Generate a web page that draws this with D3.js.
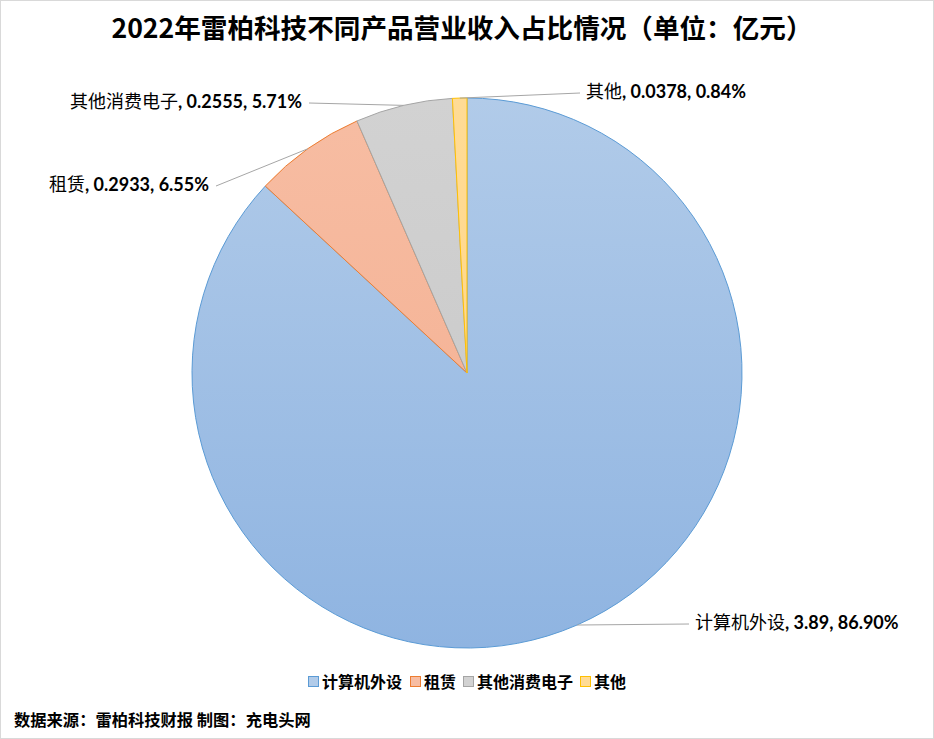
<!DOCTYPE html>
<html>
<head>
<meta charset="utf-8">
<title>雷柏科技营业收入占比</title>
<script src="https://cdnjs.cloudflare.com/ajax/libs/d3/7.8.5/d3.min.js"></script>
<style>
  body { margin: 0; background: #fff; }
  text { font-family: "Noto Sans CJK SC", "Noto Sans", sans-serif; fill: #000; }
  .num { font-family: Lato, "Noto Sans", sans-serif; font-weight: bold; font-size: 18px; }
</style>
</head>
<body>
<script type="text/javascript">
  var width = 934, height = 739;

  // data
  var categories = ["计算机外设", "租赁", "其他消费电子", "其他"];
  var revenue    = [3.89, 0.2933, 0.2555, 0.0378];
  var shareText  = ["86.90%", "6.55%", "5.71%", "0.84%"];

  // colours: [gradient top, gradient bottom, outline]
  var fills   = [["#b1cbe9", "#8fb4e1"], ["#f7bda3", "#f3ad8e"], ["#d2d2d2", "#c6c6c6"], ["#ffdb95", "#ffd584"]];
  var strokes = ["#5b9bd5", "#ed7d31", "#a5a5a5", "#ffc000"];

  // label anchor spots (layout only)
  var labelPos = [
    { x: 695, y: 623, anchor: "start" },
    { x: 209, y: 185, anchor: "end" },
    { x: 302, y: 102, anchor: "end" },
    { x: 586, y: 92,  anchor: "start" }
  ];

  var cx = 467, cy = 373, r = 275;

  var svg = d3.select("body").append("svg")
    .attr("width", width)
    .attr("height", height);

  svg.append("rect")
    .attr("x", 0.5).attr("y", 0.5)
    .attr("width", width - 1).attr("height", height - 1)
    .attr("fill", "#fff").attr("stroke", "#d9d9d9");

  var defs = svg.append("defs");
  fills.forEach(function (f, i) {
    var g = defs.append("linearGradient")
      .attr("id", "grad" + i)
      .attr("gradientUnits", "userSpaceOnUse")
      .attr("x1", 0).attr("y1", -r).attr("x2", 0).attr("y2", r);
    g.append("stop").attr("offset", "0%").attr("stop-color", f[0]);
    g.append("stop").attr("offset", "100%").attr("stop-color", f[1]);
  });

  svg.append("text")
    .attr("x", 462).attr("y", 38)
    .attr("text-anchor", "middle")
    .style("font-size", "26.6px").style("font-weight", "bold")
    .text("2022年雷柏科技不同产品营业收入占比情况（单位：亿元）");

  var pie = d3.pie().sort(null).value(d => d);
  var arcs = pie(revenue);
  var arc = d3.arc().innerRadius(0).outerRadius(r);
  var edge = d3.arc().innerRadius(r).outerRadius(r);

  var g = svg.append("g").attr("transform", "translate(" + cx + "," + cy + ")");

  g.selectAll("path.slice").data(arcs).enter().append("path")
    .attr("class", "slice")
    .attr("d", arc)
    .attr("fill", (d, i) => "url(#grad" + i + ")")
    .attr("stroke", (d, i) => strokes[i])
    .attr("stroke-width", 1);

  // leader lines
  g.selectAll("line.leader").data(arcs).enter().append("polyline")
    .attr("class", "leader")
    .attr("fill", "none")
    .attr("stroke", "#a6a6a6")
    .attr("stroke-width", 1)
    .attr("points", function (d, i) {
      var p = edge.centroid(d);
      var lp = labelPos[i];
      var sx = lp.anchor == "start" ? lp.x - 6 : lp.x + 7;
      return [[sx - cx, lp.y + 1 - cy], p].map(q => q.join(",")).join(" ");
    });

  // data labels
  var labels = svg.selectAll("text.lbl").data(arcs).enter().append("text")
    .attr("class", "lbl")
    .attr("x", (d, i) => labelPos[i].x)
    .attr("y", (d, i) => labelPos[i].y)
    .attr("dy", "0.35em")
    .attr("text-anchor", (d, i) => labelPos[i].anchor)
    .style("font-size", "18px");
  labels.append("tspan").text((d, i) => categories[i]);
  labels.append("tspan").attr("class", "num")
    .text((d, i) => ", " + revenue[i] + ", " + shareText[i]);

  // legend
  var legendX = [308, 410, 463, 580];
  var legend = svg.selectAll("g.legend").data(categories).enter().append("g")
    .attr("class", "legend")
    .attr("transform", (d, i) => "translate(" + legendX[i] + ",682)");
  legend.append("rect")
    .attr("x", 0.5).attr("y", -5.5).attr("width", 10).attr("height", 10)
    .attr("fill", (d, i) => fills[i][0])
    .attr("stroke", (d, i) => strokes[i]);
  legend.append("text")
    .attr("x", 14).attr("y", 0).attr("dy", "0.35em")
    .style("font-size", "16px").style("font-weight", "bold")
    .text(d => d);

  svg.append("text")
    .attr("x", 14).attr("y", 720).attr("dy", "0.35em")
    .style("font-size", "16.3px").style("font-weight", "bold")
    .text("数据来源：雷柏科技财报 制图：充电头网");
</script>
</body>
</html>
